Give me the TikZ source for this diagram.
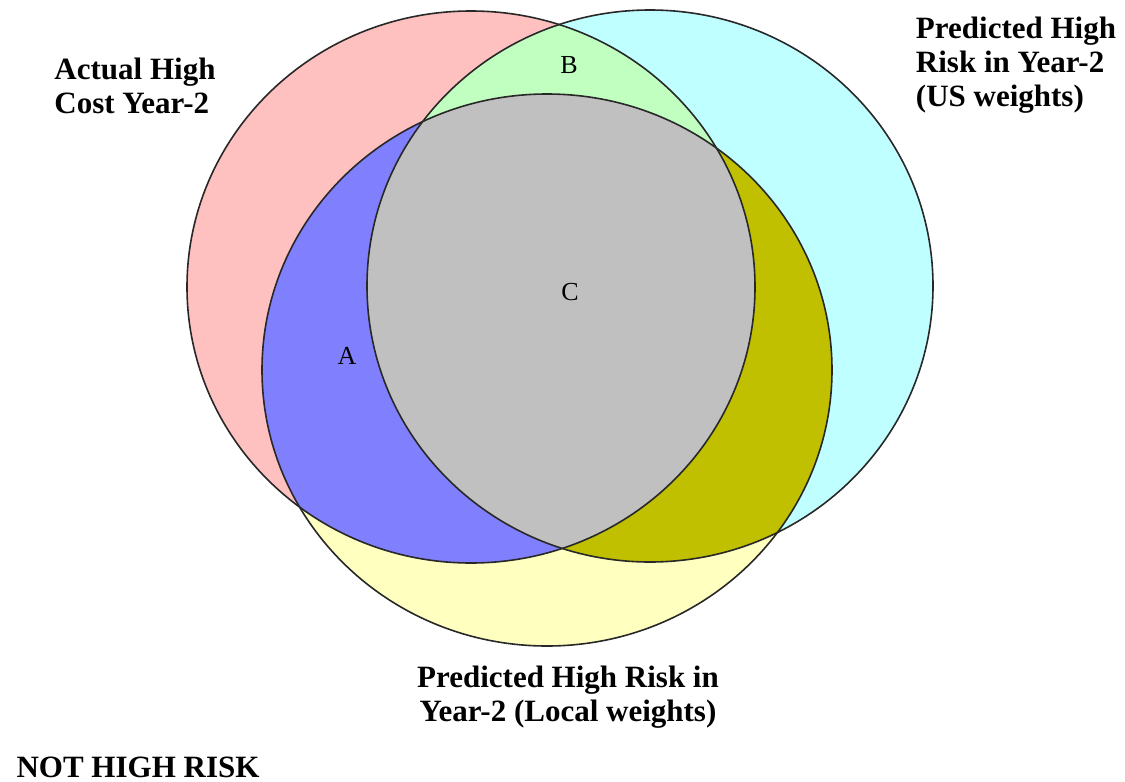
\documentclass[tikz,border=0pt]{standalone}
\usepackage{fontspec}
\setmainfont{Liberation Serif}
\definecolor{cPink}{RGB}{255,192,192}
\definecolor{cCyan}{RGB}{192,255,255}
\definecolor{cYellow}{RGB}{255,255,192}
\definecolor{cGreen}{RGB}{192,255,192}
\definecolor{cBlue}{RGB}{128,128,255}
\definecolor{cOlive}{RGB}{192,192,0}
\definecolor{cGray}{RGB}{192,192,192}
\definecolor{cLine}{RGB}{40,40,40}
\begin{document}
\begin{tikzpicture}[x=1pt,y=-1pt,
  title/.style={font=\fontsize{31}{34}\selectfont\bfseries, inner sep=0pt},
  letter/.style={font=\fontsize{26}{28}\selectfont, inner sep=0pt},
  outline/.style={draw=cLine, line width=1.6pt}]
\useasboundingbox (0,0) rectangle (1125,782);
% single sets
\fill[cPink] (471,287) ellipse [x radius=284pt, y radius=276pt];
\fill[cCyan] (650,286) ellipse [x radius=283pt, y radius=276pt];
\fill[cYellow] (547,370) ellipse [x radius=285pt, y radius=276pt];
% pairwise
\begin{scope}
  \clip (471,287) ellipse [x radius=284pt, y radius=276pt];
  \fill[cGreen] (650,286) ellipse [x radius=283pt, y radius=276pt];
  \fill[cBlue] (547,370) ellipse [x radius=285pt, y radius=276pt];
\end{scope}
\begin{scope}
  \clip (650,286) ellipse [x radius=283pt, y radius=276pt];
  \fill[cOlive] (547,370) ellipse [x radius=285pt, y radius=276pt];
\end{scope}
% triple
\begin{scope}
  \clip (471,287) ellipse [x radius=284pt, y radius=276pt];
  \clip (650,286) ellipse [x radius=283pt, y radius=276pt];
  \fill[cGray] (547,370) ellipse [x radius=285pt, y radius=276pt];
\end{scope}
% outlines
\draw[outline] (471,287) ellipse [x radius=284pt, y radius=276pt];
\draw[outline] (650,286) ellipse [x radius=283pt, y radius=276pt];
\draw[outline] (547,370) ellipse [x radius=285pt, y radius=276pt];
% labels
\node[letter] (lB) at (569,65) {B};
\node[letter] (lC) at (570,292) {C};
\node[letter] (lA) at (347,356) {A};
\node[title, align=left] (tActual) at (135,86) {Actual High\\Cost Year-2};
\node[title, align=left] (tUS) at (1016,65) {Predicted High\\Risk in Year-2\\(US weights)};
\node[title, align=center] (tLocal) at (568,697) {Predicted High Risk in\\Year-2 (Local weights)};
\node[title] (tNot) at (138,767) {NOT HIGH RISK};
\end{tikzpicture}
\end{document}
